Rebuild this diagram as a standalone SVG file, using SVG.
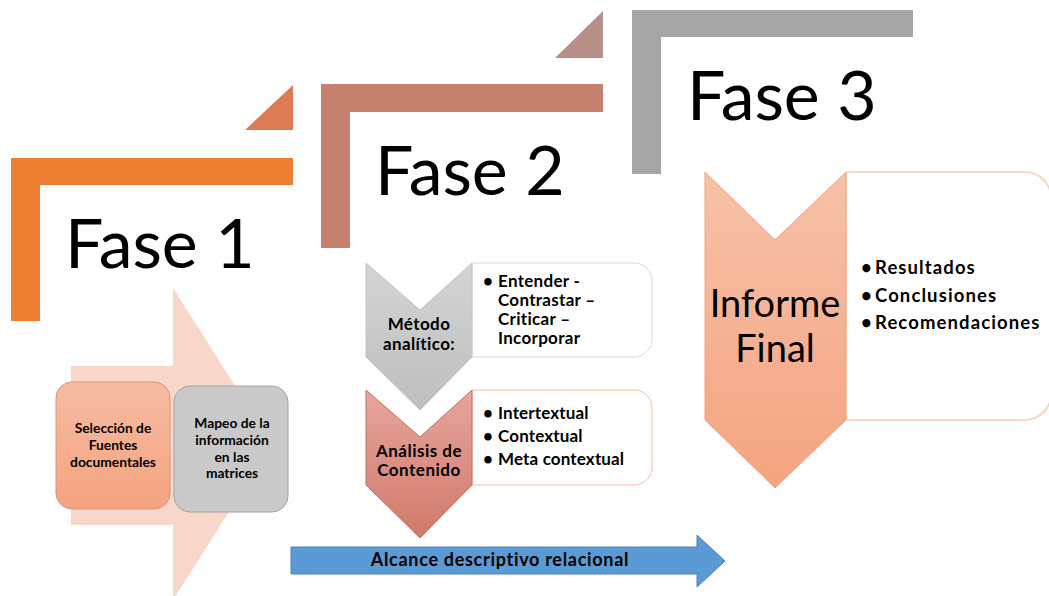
<svg xmlns="http://www.w3.org/2000/svg" width="1049" height="596" viewBox="0 0 1049 596">
  <defs>
    <linearGradient id="gOrange" x1="0" y1="0" x2="0" y2="1">
      <stop offset="0" stop-color="#F7BCA2"/>
      <stop offset="1" stop-color="#F4A37F"/>
    </linearGradient>
    <linearGradient id="gGray" x1="0" y1="0" x2="0" y2="1">
      <stop offset="0" stop-color="#D4D4D4"/>
      <stop offset="1" stop-color="#BEBEBE"/>
    </linearGradient>
    <linearGradient id="gRed" x1="0" y1="0" x2="0" y2="1">
      <stop offset="0" stop-color="#E6A59D"/>
      <stop offset="1" stop-color="#D1796A"/>
    </linearGradient>
    <linearGradient id="gInforme" x1="0" y1="0" x2="0" y2="1">
      <stop offset="0" stop-color="#F7C1A8"/>
      <stop offset="1" stop-color="#F4A480"/>
    </linearGradient>
    <style>
      .fase { font-family: Lato, "Liberation Sans", sans-serif; font-size: 68px; fill: #000; }
      .b { font-family: Lato, "Liberation Sans", sans-serif; font-weight: bold; fill: #000; }
      .r { font-family: Lato, "Liberation Sans", sans-serif; fill: #000; }
      .mid { text-anchor: middle; }
    </style>
  </defs>

  <rect width="1049" height="596" fill="#FFFFFF"/>

  <!-- Fase 1 -->
  <g id="fase1">
    <polygon points="245,130 293,130 293,85" fill="#DC7B55"/>
    <path d="M11,158 H293 V185 H40 V321 H11 Z" fill="#ED7D31"/>
    <text class="fase" x="65" y="268">Fase 1</text>
    <path d="M71,366 H173 V288 L272,444 L173,600 V525 H71 Z" fill="#F9D6CA"/>
  </g>
  <g id="seleccion">
    <rect x="56" y="382" width="114" height="127" rx="16" fill="url(#gOrange)" stroke="#D9957A" stroke-width="1"/>
    <text class="b mid" font-size="13.8" x="113"><tspan x="113" y="433">Selección de</tspan><tspan x="113" y="450">Fuentes</tspan><tspan x="113" y="467">documentales</tspan></text>
  </g>
  <g id="mapeo">
    <rect x="174" y="386" width="114" height="126" rx="16" fill="#C9C9C9" stroke="#A3A3A3" stroke-width="1"/>
    <text class="b mid" font-size="13.8" x="232"><tspan x="232" y="428">Mapeo de la</tspan><tspan x="232" y="445">información</tspan><tspan x="232" y="462">en las</tspan><tspan x="232" y="478">matrices</tspan></text>
  </g>

  <!-- Fase 2 -->
  <g id="fase2">
    <polygon points="555,58 603,58 603,11" fill="#B88E88"/>
    <path d="M321,84 H603 V112 H350 V248 H321 Z" fill="#C5806E"/>
    <text class="fase" x="375" y="195">Fase 2</text>
  </g>
  <g id="metodo">
    <path d="M472,263 H634 A18,18 0 0 1 652,281 V339 A18,18 0 0 1 634,357 H472 Z" fill="#FFFFFF" stroke="#D9D9D9" stroke-width="1"/>
    <path d="M366,263 L420,310 L472,263 L472,357 L420,410 L366,357 Z" fill="url(#gGray)" stroke="#C4C4C4" stroke-width="1"/>
    <text class="b mid" font-size="17" letter-spacing="0.4" x="419"><tspan x="419" y="330">Método</tspan><tspan x="419" y="350">analítico:</tspan></text>
    <text class="b" font-size="17" letter-spacing="0.3">
      <tspan x="483" y="287">•</tspan><tspan x="498" y="287">Entender -</tspan>
      <tspan x="498" y="306">Contrastar –</tspan>
      <tspan x="498" y="325">Criticar –</tspan>
      <tspan x="498" y="344">Incorporar</tspan>
    </text>
  </g>
  <g id="analisis">
    <path d="M472,390 H634 A18,18 0 0 1 652,408 V467 A18,18 0 0 1 634,485 H472 Z" fill="#FFFFFF" stroke="#F2BFAE" stroke-width="1"/>
    <path d="M366,390 L420,437 L472,390 L472,485 L420,538 L366,485 Z" fill="url(#gRed)" stroke="#C8705E" stroke-width="1"/>
    <text class="b mid" font-size="17" letter-spacing="0.5" x="419"><tspan x="419" y="457">Análisis de</tspan><tspan x="419" y="476">Contenido</tspan></text>
    <text class="b" font-size="17" letter-spacing="0.15">
      <tspan x="483" y="419">•</tspan><tspan x="498" y="419">Intertextual</tspan>
      <tspan x="483" y="442">•</tspan><tspan x="498" y="442">Contextual</tspan>
      <tspan x="483" y="465">•</tspan><tspan x="498" y="465">Meta contextual</tspan>
    </text>
  </g>

  <!-- Fase 3 -->
  <g id="fase3">
    <path d="M632,10 H913 V37 H661 V174 H632 Z" fill="#A5A5A5"/>
    <text class="fase" x="687" y="120">Fase 3</text>
  </g>
  <g id="informe">
    <path d="M846,172 H1025 A26,26 0 0 1 1051,198 V394 A26,26 0 0 1 1025,420 H846 Z" fill="#FFFFFF" stroke="#F8CDB6" stroke-width="1.5"/>
    <path d="M705,172 L775,240 L846,172 L846,420 L775,488 L705,420 Z" fill="url(#gInforme)" stroke="#F2A57A" stroke-width="1"/>
    <text class="r mid" font-size="38" x="775"><tspan x="775" y="317">Informe</tspan><tspan x="775" y="362">Final</tspan></text>
    <text class="b" font-size="18.5" letter-spacing="1.1">
      <tspan x="861" y="274">•</tspan><tspan x="875" y="274">Resultados</tspan>
      <tspan x="861" y="302">•</tspan><tspan x="875" y="302">Conclusiones</tspan>
      <tspan x="861" y="329">•</tspan><tspan x="875" y="329">Recomendaciones</tspan>
    </text>
  </g>

  <!-- Alcance arrow -->
  <g id="alcance">
    <path d="M291,547 H697 V535 L725,561 L697,587 V574 H291 Z" fill="#5B9BD5" stroke="#4A83B8" stroke-width="1"/>
    <text class="b mid" font-size="18" letter-spacing="0.7" x="500" y="566">Alcance descriptivo relacional</text>
  </g>

  <g id="connectors"/>
</svg>
